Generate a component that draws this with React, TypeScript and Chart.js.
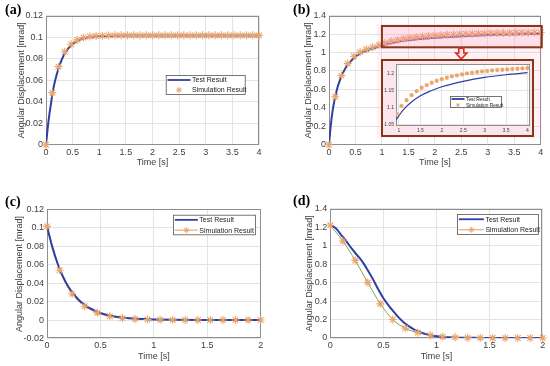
import React, { useEffect, useRef } from "react";
import { Chart, registerables } from "chart.js";
Chart.register(...registerables);

// ---------- text ----------
const LABEL_TEST = "Test Result";
const LABEL_SIM = "Simulation Result";
const X_TITLE = "Time [s]";
const Y_TITLE = "Angular Displacement [mrad]";
const PANEL_LABELS = ["(a)", "(b)", "(c)", "(d)"];

// ---------- shared sample times ----------
const T35 = [0, 0.118, 0.235, 0.353, 0.471, 0.588, 0.706, 0.824, 0.941, 1.059, 1.176, 1.294, 1.412, 1.529, 1.647, 1.765, 1.882, 2.0, 2.118, 2.235, 2.353, 2.471, 2.588, 2.706, 2.824, 2.941, 3.059, 3.176, 3.294, 3.412, 3.529, 3.647, 3.765, 3.882, 4.0];
const T18 = [0, 0.118, 0.235, 0.353, 0.471, 0.588, 0.706, 0.824, 0.941, 1.059, 1.176, 1.294, 1.412, 1.529, 1.647, 1.765, 1.882, 2.0];

// ---------- (a) ----------
const A_TEST_T = [0, 0.03, 0.06, 0.09, 0.12, 0.15, 0.2, 0.25, 0.3, 0.35, 0.4, 0.45, 0.5, 0.6, 0.7, 0.8, 0.9, 1.0, 1.2, 1.5, 2, 3, 4];
const A_TEST_V = [0, 0.0145, 0.027, 0.037, 0.047, 0.055, 0.065, 0.073, 0.0797, 0.0847, 0.0885, 0.0914, 0.0937, 0.0968, 0.0987, 0.0999, 0.1006, 0.101, 0.1013, 0.1015, 0.1015, 0.1015, 0.1015];
const A_SIM_V = [0, 0.0484, 0.0726, 0.0865, 0.0935, 0.0975, 0.0996, 0.1006, 0.1011, 0.1014, 0.1016, 0.1017, 0.1017, 0.1017, 0.1017, 0.1017, 0.1017, 0.1017, 0.1017, 0.1017, 0.1017, 0.1017, 0.1017, 0.1017, 0.1017, 0.1017, 0.1017, 0.1017, 0.1017, 0.1017, 0.1017, 0.1017, 0.1017, 0.1017, 0.1017];
const A_X_TICKS = [0, 0.5, 1, 1.5, 2, 2.5, 3, 3.5, 4];
const A_Y_TICKS = [0, 0.02, 0.04, 0.06, 0.08, 0.1, 0.12];

// ---------- (b) ----------
const B_TEST_T = [0, 0.02, 0.05, 0.08, 0.1, 0.15, 0.2, 0.25, 0.3, 0.35, 0.4, 0.5, 0.6, 0.7, 0.8, 0.9, 1.0, 1.1, 1.25, 1.5, 1.75, 2.0, 2.5, 3.0, 3.5, 4.0];
const B_TEST_V = [0, 0.13, 0.29, 0.41, 0.47, 0.6, 0.69, 0.76, 0.82, 0.865, 0.9, 0.955, 0.993, 1.02, 1.04, 1.058, 1.076, 1.093, 1.112, 1.135, 1.15, 1.162, 1.178, 1.19, 1.198, 1.204];
const B_SIM_V = [0, 0.52, 0.75, 0.88, 0.96, 1.005, 1.035, 1.058, 1.082, 1.105, 1.122, 1.137, 1.149, 1.159, 1.167, 1.174, 1.18, 1.185, 1.189, 1.193, 1.196, 1.199, 1.202, 1.204, 1.206, 1.208, 1.209, 1.211, 1.212, 1.213, 1.214, 1.215, 1.216, 1.217, 1.218];
const B_X_TICKS = [0, 0.5, 1, 1.5, 2, 2.5, 3, 3.5, 4];
const B_Y_TICKS = [0, 0.2, 0.4, 0.6, 0.8, 1, 1.2, 1.4];
// zoom highlight (data coordinates of panel b)
const B_ZOOM_BOX = [1.0, 4.02, 1.057, 1.288];
const B_SHADE = [0.9, 4.03, 0.07, 1.31];
const B_ARROW = [2.5, 1.057, 0.919];
// inset
const INSET_X_TICKS = [1, 1.5, 2, 2.5, 3, 3.5, 4];
const INSET_Y_TICKS = [1.05, 1.1, 1.15, 1.2];
const INSET_X_RANGE = [0.93, 4.06];
const INSET_Y_RANGE = [1.045, 1.23];

// ---------- (c) ----------
const C_TEST_T = [0, 0.05, 0.1, 0.15, 0.2, 0.25, 0.3, 0.35, 0.4, 0.5, 0.6, 0.7, 0.8, 0.9, 1.0, 1.2, 1.5, 2.0];
const C_TEST_V = [0.1015, 0.079, 0.061, 0.047, 0.036, 0.028, 0.0215, 0.0166, 0.0128, 0.0077, 0.0046, 0.0027, 0.0016, 0.001, 0.0006, 0.0002, 0.0001, 0];
const C_SIM_V = [0.1015, 0.054, 0.0285, 0.015, 0.0078, 0.0041, 0.0021, 0.0011, 0.0006, 0.0003, 0.0002, 0.0001, 0, 0, 0, 0, 0, 0];
const C_X_TICKS = [0, 0.5, 1, 1.5, 2];
const C_Y_TICKS = [-0.02, 0, 0.02, 0.04, 0.06, 0.08, 0.1, 0.12];

// ---------- (d) ----------
const D_TEST_T = [0, 0.05, 0.1, 0.15, 0.2, 0.25, 0.3, 0.35, 0.4, 0.45, 0.5, 0.55, 0.6, 0.65, 0.7, 0.75, 0.8, 0.9, 1.0, 1.1, 1.2, 1.4, 1.6, 2.0];
const D_TEST_V = [1.22, 1.19, 1.12, 1.05, 0.97, 0.9, 0.83, 0.74, 0.64, 0.53, 0.43, 0.35, 0.28, 0.215, 0.16, 0.12, 0.085, 0.042, 0.02, 0.009, 0.004, 0.001, 0, 0];
const D_SIM_V = [1.22, 1.05, 0.84, 0.6, 0.37, 0.2, 0.105, 0.058, 0.03, 0.014, 0.007, 0.003, 0.0015, 0.0007, 0.0003, 0.0001, 0, 0];
const D_X_TICKS = [0, 0.5, 1, 1.5, 2];
const D_Y_TICKS = [0, 0.2, 0.4, 0.6, 0.8, 1, 1.2, 1.4];

// ---------- style ----------
const FONT = "'Liberation Sans', Arial, Helvetica, sans-serif";
const BLUE = "#2e3fa3";
const STAR = "#eba46a";
const SIM_LINE_C = "#e49c5c";
const SIM_LINE_D = "#86a052";
const GRID = "#e4e4e4";
const FRAME = "#8e8e8e";
const TICK = "#404040";
const BROWN = "#8a3517";

const zip = (xs: number[], ys: number[]) => xs.map((x, i) => ({ x, y: ys[i] }));

function drawStar(ctx: CanvasRenderingContext2D, x: number, y: number, r: number, color: string, lw: number) {
  ctx.save();
  ctx.strokeStyle = color;
  ctx.lineWidth = lw;
  ctx.beginPath();
  for (let k = 0; k < 4; k++) {
    const a = (k * Math.PI) / 4;
    ctx.moveTo(x - r * Math.cos(a), y - r * Math.sin(a));
    ctx.lineTo(x + r * Math.cos(a), y + r * Math.sin(a));
  }
  ctx.stroke();
  ctx.restore();
}

type LegendEntry = { text: string; line?: string; lineWidth?: number; star?: boolean };
function legendPlugin(id: string, box: number[], entries: LegendEntry[], fontSize: number, lineLen: number, starR: number) {
  return {
    id,
    afterDatasetsDraw(chart: any) {
      const ctx: CanvasRenderingContext2D = chart.ctx;
      const [l, t, w, h] = box;
      ctx.save();
      ctx.fillStyle = "#ffffff";
      ctx.fillRect(l, t, w, h);
      ctx.strokeStyle = "#555555";
      ctx.lineWidth = 0.8;
      ctx.strokeRect(l + 0.5, t + 0.5, w - 1, h - 1);
      const pad = Math.max(1.5, h * 0.09);
      entries.forEach((e, i) => {
        const cy = t + (h * (i + 0.5)) / entries.length;
        const x0 = l + pad;
        if (e.line) {
          ctx.strokeStyle = e.line;
          ctx.lineWidth = e.lineWidth || 1;
          ctx.beginPath();
          ctx.moveTo(x0, cy);
          ctx.lineTo(x0 + lineLen, cy);
          ctx.stroke();
        }
        if (e.star) drawStar(ctx, x0 + lineLen / 2, cy, starR, STAR, 1);
        ctx.fillStyle = "#222222";
        ctx.font = `${fontSize}px ${FONT}`;
        ctx.textBaseline = "middle";
        ctx.textAlign = "left";
        ctx.fillText(e.text, x0 + lineLen + 1.5, cy + 0.5);
      });
      ctx.restore();
    },
  };
}

const framePlugin = {
  id: "frame",
  beforeDraw(chart: any) {
    const { ctx, chartArea: a } = chart;
    ctx.save();
    ctx.fillStyle = "#ffffff";
    ctx.fillRect(a.left, a.top, a.right - a.left, a.bottom - a.top);
    ctx.restore();
  },
  beforeDatasetsDraw(chart: any) {
    const { ctx, chartArea: a } = chart;
    ctx.save();
    ctx.strokeStyle = FRAME;
    ctx.lineWidth = 1;
    ctx.strokeRect(Math.round(a.left) + 0.5, Math.round(a.top) + 0.5, Math.round(a.right - a.left) - 1, Math.round(a.bottom - a.top) - 1);
    ctx.restore();
  },
};

const insetBgPlugin = {
  id: "insetBg",
  beforeDraw(chart: any) {
    const { ctx, chartArea: a, width, height } = chart;
    ctx.save();
    ctx.fillStyle = "#fce6ee";
    ctx.fillRect(0, 0, width, height);
    ctx.fillStyle = "#ffffff";
    ctx.fillRect(a.left, a.top, a.right - a.left, a.bottom - a.top);
    ctx.restore();
  },
  afterDraw(chart: any) {
    const { ctx, width, height } = chart;
    ctx.save();
    ctx.strokeStyle = BROWN;
    ctx.lineWidth = 2;
    ctx.strokeRect(1, 1, width - 2, height - 2);
    ctx.restore();
  },
};

const zoomAnnotPlugin = {
  id: "zoomAnnot",
  afterDatasetsDraw(chart: any) {
    const { ctx, scales } = chart;
    const px = (v: number) => scales.x.getPixelForValue(v);
    const py = (v: number) => scales.y.getPixelForValue(v);
    ctx.save();
    ctx.fillStyle = "rgba(255,150,185,0.13)";
    ctx.fillRect(px(B_SHADE[0]), py(B_SHADE[3]), px(B_SHADE[1]) - px(B_SHADE[0]), py(B_SHADE[2]) - py(B_SHADE[3]));
    const bx0 = px(B_ZOOM_BOX[0]), bx1 = px(B_ZOOM_BOX[1]), by0 = py(B_ZOOM_BOX[3]), by1 = py(B_ZOOM_BOX[2]);
    ctx.fillStyle = "rgba(255,150,185,0.18)";
    ctx.fillRect(bx0, by0, bx1 - bx0, by1 - by0);
    ctx.strokeStyle = BROWN;
    ctx.lineWidth = 2;
    ctx.strokeRect(bx0, by0, bx1 - bx0, by1 - by0);
    // arrow
    const ax = px(B_ARROW[0]), ay0 = py(B_ARROW[1]) + 1, ay1 = py(B_ARROW[2]) - 1;
    const sw = 2.5, hw = 5.5, hl = 6;
    ctx.beginPath();
    ctx.moveTo(ax - sw, ay0);
    ctx.lineTo(ax + sw, ay0);
    ctx.lineTo(ax + sw, ay1 - hl);
    ctx.lineTo(ax + hw, ay1 - hl);
    ctx.lineTo(ax, ay1);
    ctx.lineTo(ax - hw, ay1 - hl);
    ctx.lineTo(ax - sw, ay1 - hl);
    ctx.closePath();
    ctx.fillStyle = "#fde8e8";
    ctx.fill();
    ctx.strokeStyle = "#e02a1e";
    ctx.lineWidth = 1.6;
    ctx.stroke();
    ctx.restore();
  },
};

function testDs(t: number[], v: number[], width: number) {
  return {
    label: LABEL_TEST, data: zip(t, v), showLine: true, borderColor: BLUE, backgroundColor: BLUE,
    borderWidth: width, pointRadius: 0, cubicInterpolationMode: "monotone", order: 1,
  };
}
function simMarkers(t: number[], v: number[], r: number, clip: number) {
  return {
    label: LABEL_SIM, data: zip(t, v), showLine: false, pointStyle: "star", pointRadius: r,
    pointBorderColor: STAR, pointBackgroundColor: STAR, pointBorderWidth: 1.1, order: 0, clip,
  };
}
function simLine(t: number[], v: number[], color: string) {
  return {
    label: LABEL_SIM, data: zip(t, v), showLine: true, borderColor: color, borderWidth: 1,
    pointRadius: 0, cubicInterpolationMode: "monotone", order: 2,
  };
}

type Spec = {
  W: number; H: number; plotL: number; plotR: number; plotT: number; plotB: number;
  xRange: number[]; xTicks: number[]; yRange: number[]; yTicks: number[];
  fontSize: number; xTickPad: number; yTickPad: number; yTitleX?: number; xTitleY?: number;
  datasets: any[]; plugins: any[];
};

function buildConfig(p: Spec): any {
  const lh = p.fontSize * 1.2;
  const font = { family: FONT, size: p.fontSize };
  return {
    type: "scatter",
    data: { datasets: p.datasets },
    options: {
      responsive: false,
      maintainAspectRatio: false,
      animation: false,
      devicePixelRatio: 1,
      events: [],
      layout: { autoPadding: false, padding: { left: 0, top: p.plotT, right: p.W - p.plotR, bottom: 0 } },
      plugins: { legend: { display: false }, tooltip: { enabled: false }, title: { display: false } },
      scales: {
        x: {
          type: "linear", min: p.xRange[0], max: p.xRange[1],
          afterBuildTicks: (s: any) => { s.ticks = p.xTicks.map((v) => ({ value: v })); },
          afterFit: (s: any) => { s.height = p.H - p.plotB; },
          grid: { color: GRID, lineWidth: 1, drawTicks: false },
          border: { display: false },
          ticks: { color: TICK, font, padding: p.xTickPad, maxRotation: 0, minRotation: 0, autoSkip: false, callback: (v: any) => String(v) },
          title: p.xTitleY != null
            ? { display: true, text: X_TITLE, color: TICK, font, padding: { top: 0, bottom: p.H - p.xTitleY - lh / 2 } }
            : { display: false },
        },
        y: {
          type: "linear", min: p.yRange[0], max: p.yRange[1],
          afterBuildTicks: (s: any) => { s.ticks = p.yTicks.map((v) => ({ value: v })); },
          afterFit: (s: any) => { s.width = p.plotL; },
          grid: { color: GRID, lineWidth: 1, drawTicks: false },
          border: { display: false },
          ticks: { color: TICK, font, padding: p.yTickPad, autoSkip: false, callback: (v: any) => String(v) },
          title: p.yTitleX != null
            ? { display: true, text: Y_TITLE, color: TICK, font, padding: { top: p.yTitleX - lh / 2, bottom: 0 } }
            : { display: false },
        },
      },
    },
    plugins: p.plugins,
  };
}

function ChartCanvas({ left, top, spec }: { left: number; top: number; spec: Spec }) {
  const ref = useRef<HTMLCanvasElement>(null);
  useEffect(() => {
    const chart = new Chart(ref.current as HTMLCanvasElement, buildConfig(spec));
    return () => chart.destroy();
  }, []);
  return (
    <canvas
      ref={ref}
      width={spec.W}
      height={spec.H}
      style={{ position: "absolute", left, top, width: spec.W, height: spec.H, display: "block" }}
    />
  );
}

const LEG_LINE_SIM_ONLY = (c: string | undefined): LegendEntry[] => [
  { text: LABEL_TEST, line: BLUE, lineWidth: 1.8 },
  { text: LABEL_SIM, line: c, lineWidth: 1, star: true },
];

const specA: Spec = {
  W: 275, H: 183, plotL: 46, plotR: 259, plotT: 15.7, plotB: 144.7,
  xRange: [0, 4], xTicks: A_X_TICKS, yRange: [0, 0.12], yTicks: A_Y_TICKS,
  fontSize: 9, xTickPad: 2, yTickPad: 3, yTitleX: 22, xTitleY: 162.7,
  datasets: [testDs(A_TEST_T, A_TEST_V, 2), simMarkers(T35, A_SIM_V, 4, 6)],
  plugins: [framePlugin, legendPlugin("legA", [165.7, 75, 80, 20], LEG_LINE_SIM_ONLY(undefined), 7, 23, 3)],
};

const specB: Spec = {
  W: 275, H: 183, plotL: 54, plotR: 265.7, plotT: 15.7, plotB: 144.7,
  xRange: [0, 4], xTicks: B_X_TICKS, yRange: [0, 1.4], yTicks: B_Y_TICKS,
  fontSize: 9, xTickPad: 2, yTickPad: 3, yTitleX: 33.3, xTitleY: 162.7,
  datasets: [testDs(B_TEST_T, B_TEST_V, 2), simMarkers(T35, B_SIM_V, 4, 6)],
  plugins: [framePlugin, zoomAnnotPlugin],
};

const specInset: Spec = {
  W: 153, H: 78, plotL: 15, plotR: 149, plotT: 3.5, plotB: 67,
  xRange: INSET_X_RANGE, xTicks: INSET_X_TICKS, yRange: INSET_Y_RANGE, yTicks: INSET_Y_TICKS,
  fontSize: 5, xTickPad: 2, yTickPad: 2,
  datasets: [testDs(B_TEST_T, B_TEST_V, 1.2), simMarkers(T35, B_SIM_V, 2.2, 0)],
  plugins: [insetBgPlugin, framePlugin, legendPlugin("legI", [69, 37, 52, 12], LEG_LINE_SIM_ONLY(undefined), 4.8, 13, 1.8)],
};

const specC: Spec = {
  W: 275, H: 183, plotL: 47, plotR: 260.7, plotT: 26.3, plotB: 155.5,
  xRange: [0, 2], xTicks: C_X_TICKS, yRange: [-0.02, 0.12], yTicks: C_Y_TICKS,
  fontSize: 9, xTickPad: 2, yTickPad: 3, yTitleX: 20, xTitleY: 173.5,
  datasets: [testDs(C_TEST_T, C_TEST_V, 2), simMarkers(T18, C_SIM_V, 4, 6), simLine(T18, C_SIM_V, SIM_LINE_C)],
  plugins: [framePlugin, legendPlugin("legC", [173, 31.7, 83, 20.6], LEG_LINE_SIM_ONLY(SIM_LINE_C), 7, 23, 3)],
};

const specD: Spec = {
  W: 275, H: 183, plotL: 55.3, plotR: 267.7, plotT: 25.7, plotB: 155,
  xRange: [0, 2], xTicks: D_X_TICKS, yRange: [0, 1.4], yTicks: D_Y_TICKS,
  fontSize: 9, xTickPad: 2, yTickPad: 3, yTitleX: 35, xTitleY: 173.7,
  datasets: [testDs(D_TEST_T, D_TEST_V, 2), simMarkers(T18, D_SIM_V, 4, 6), simLine(T18, D_SIM_V, SIM_LINE_D)],
  plugins: [framePlugin, legendPlugin("legD", [182, 31, 82, 21], LEG_LINE_SIM_ONLY(SIM_LINE_C), 7, 25, 3)],
};

const panelLabelStyle = (left: number, top: number): React.CSSProperties => ({
  position: "absolute", left, top, font: "bold 14px 'Liberation Serif', 'Times New Roman', serif",
  lineHeight: "14px", color: "#000", whiteSpace: "nowrap",
});

export default function App() {
  return (
    <div style={{ position: "absolute", left: 0, top: 0, width: 550, height: 366, background: "#ffffff", overflow: "hidden" }}>
      <ChartCanvas left={0} top={0} spec={specA} />
      <ChartCanvas left={275} top={0} spec={specB} />
      <ChartCanvas left={381} top={59} spec={specInset} />
      <ChartCanvas left={0} top={183} spec={specC} />
      <ChartCanvas left={275} top={183} spec={specD} />
      <div style={panelLabelStyle(5, 3)}>{PANEL_LABELS[0]}</div>
      <div style={panelLabelStyle(293, 3)}>{PANEL_LABELS[1]}</div>
      <div style={panelLabelStyle(5, 195)}>{PANEL_LABELS[2]}</div>
      <div style={panelLabelStyle(293, 193.5)}>{PANEL_LABELS[3]}</div>
    </div>
  );
}
